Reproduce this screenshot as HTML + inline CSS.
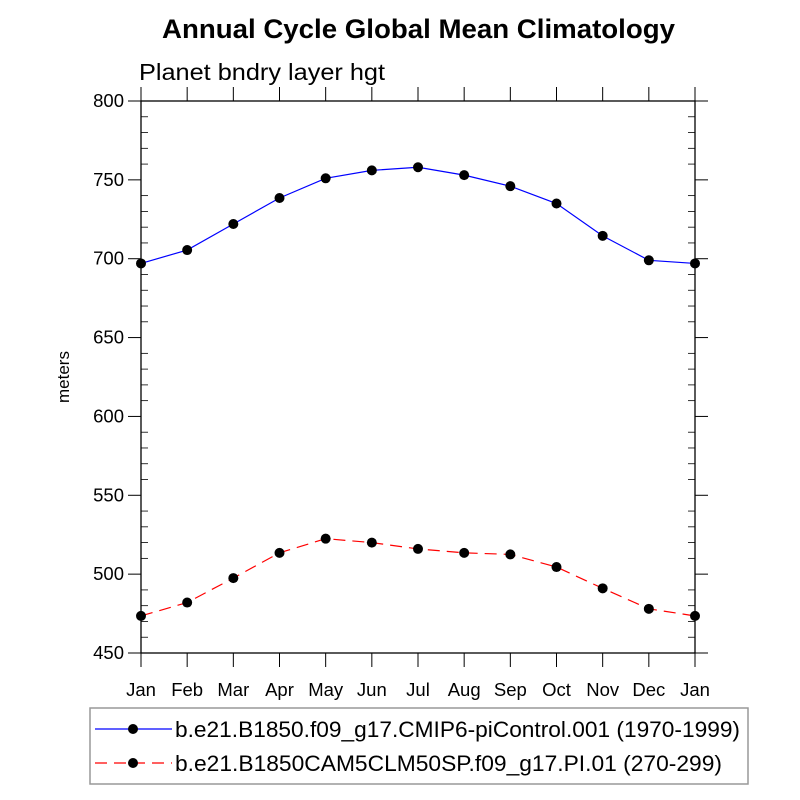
<!DOCTYPE html>
<html><head><meta charset="utf-8"><style>
body{margin:0;background:#fff}
svg{display:block;font-family:"Liberation Sans",sans-serif}
</style></head><body>
<svg id="c" width="800" height="800">
<text x="162" y="38" textLength="513" lengthAdjust="spacingAndGlyphs" font-size="27" font-weight="bold">Annual Cycle Global Mean Climatology</text>
<text x="139" y="80" textLength="246" lengthAdjust="spacingAndGlyphs" font-size="23">Planet bndry layer hgt</text>
<text transform="translate(69,377) rotate(-90)" text-anchor="middle" font-size="17">meters</text>
<g id="axes"></g>
<g id="series"></g>
<rect x="90" y="708" width="658" height="76" fill="none" stroke="#999" stroke-width="1.5"/>
<g>
<line x1="95" y1="729" x2="172" y2="729" stroke="#00f" stroke-width="1.2"/>
<circle cx="133" cy="729" r="5" fill="#000"/>
<text x="175" y="737" textLength="565" lengthAdjust="spacingAndGlyphs" font-size="22">b.e21.B1850.f09_g17.CMIP6-piControl.001 (1970-1999)</text>
</g>
<g>
<line x1="95" y1="763" x2="172" y2="763" stroke="#f00" stroke-width="1.2" stroke-dasharray="12,7"/>
<circle cx="133" cy="763" r="5" fill="#000"/>
<text x="175" y="771" textLength="547" lengthAdjust="spacingAndGlyphs" font-size="22">b.e21.B1850CAM5CLM50SP.f09_g17.PI.01 (270-299)</text>
</g>
</svg>
<script>
const months=["Jan","Feb","Mar","Apr","May","Jun","Jul","Aug","Sep","Oct","Nov","Dec","Jan"];
const cmip6=[697,705.5,722,738.5,751,756,758,753,746,735,714.5,699,697];
const cam5=[473.5,482,497.5,513.5,522.5,520,516,513.5,512.5,504.5,491,478,473.5];
const yTicks=[450,500,550,600,650,700,750,800];
const X0=141,X1=695,Y0=653,Y1=101,YMIN=450,YMAX=800;
const xs=i=>X0+i*(X1-X0)/(months.length-1);
const ys=v=>Y0-(v-YMIN)/(YMAX-YMIN)*(Y0-Y1);
const NS="http://www.w3.org/2000/svg";
function mk(t,a,p){const e=document.createElementNS(NS,t);for(const k in a)e.setAttribute(k,a[k]);p.appendChild(e);return e;}
const ax=document.getElementById('axes');
const fr=mk('rect',{x:X0,y:Y1,width:X1-X0,height:Y0-Y1,fill:'none',stroke:'#000','stroke-width':1.3},ax);


for(let v=YMIN;v<=YMAX;v+=10){const y=ys(v);const major=v%50===0;
 if(major){mk('line',{x1:X0-13,y1:y,x2:X0,y2:y,stroke:'#000','stroke-width':1},ax);mk('line',{x1:X1,y1:y,x2:X1+13,y2:y,stroke:'#000','stroke-width':1},ax);}
 else{mk('line',{x1:X0,y1:y,x2:X0+7,y2:y,stroke:'#000','stroke-width':0.8},ax);mk('line',{x1:X1-7,y1:y,x2:X1,y2:y,stroke:'#000','stroke-width':0.8},ax);}
}
yTicks.forEach(v=>{const t=mk('text',{x:X0-17,y:ys(v)+6,'text-anchor':'end','font-size':18.5},ax);t.textContent=v;

});
months.forEach((m,i)=>{const x=xs(i);
 mk('line',{x1:x,y1:Y0,x2:x,y2:Y0+14,stroke:'#000','stroke-width':1},ax);
 mk('line',{x1:x,y1:Y1-14,x2:x,y2:Y1,stroke:'#000','stroke-width':1},ax);
 const t=mk('text',{x:x,y:Y0+43,'text-anchor':'middle','font-size':18.5},ax);t.textContent=m;
 
 });
const sg=document.getElementById('series');
function series(d,col,dash,name){const g=mk('g',{},sg);
 
 
 mk('polyline',{points:d.map((v,i)=>xs(i)+','+ys(v)).join(' '),fill:'none',stroke:col,'stroke-width':1.2,'stroke-dasharray':dash},g);
 d.forEach((v,i)=>{const c=mk('circle',{cx:xs(i),cy:ys(v),r:5,fill:'#000'},g);
 
 });}
series(cmip6,'#00f','none','series-cmip6');
series(cam5,'#f00','12,7','series-cam5');
</script>
</body></html>
